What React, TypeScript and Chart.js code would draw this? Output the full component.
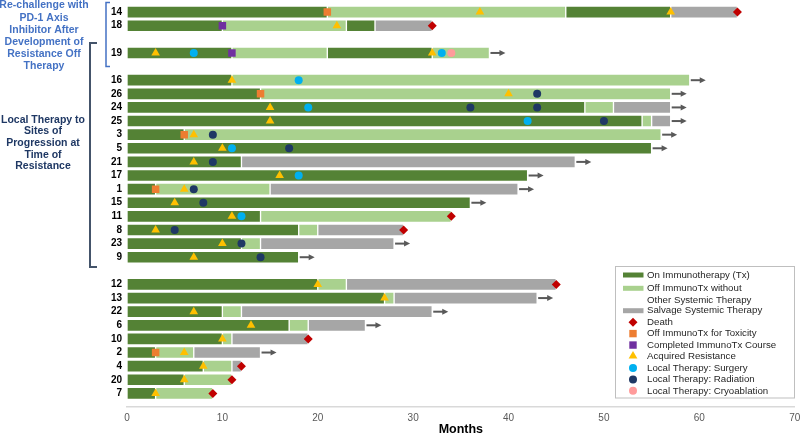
import React, { useEffect, useRef } from 'react';
import { Chart, registerables } from 'chart.js';

Chart.register(...registerables);

const FONT = 'Arial, "Liberation Sans", Helvetica, sans-serif';

// Rows, top to bottom ('' = spacer row)
const patients = ['14', '18', '', '19', '', '16', '26', '24', '25', '3', '5', '21', '17', '1', '15', '11', '8', '23', '9', '', '12', '13', '22', '6', '10', '2', '4', '20', '7'];

// [patient, start month, end month]
const onImmunoTx: [string, number, number][] = [
  ['14', 0, 21], ['14', 46, 57], ['18', 0, 10], ['18', 23, 26], ['19', 0, 11], ['19', 21, 32],
  ['16', 0, 11], ['26', 0, 14], ['24', 0, 48], ['25', 0, 54], ['3', 0, 6], ['5', 0, 55], ['21', 0, 12],
  ['17', 0, 42], ['1', 0, 3], ['15', 0, 36], ['11', 0, 14], ['8', 0, 18], ['23', 0, 12], ['9', 0, 18],
  ['12', 0, 20], ['13', 0, 27], ['22', 0, 10], ['6', 0, 17], ['10', 0, 10], ['2', 0, 3], ['4', 0, 8], ['20', 0, 6], ['7', 0, 3],
];
const offImmunoTx: [string, number, number][] = [
  ['14', 21, 46], ['18', 10, 23], ['19', 11, 21], ['19', 32, 38], ['16', 11, 59], ['26', 14, 57], ['24', 48, 51],
  ['25', 54, 55], ['3', 6, 56], ['1', 3, 15], ['11', 14, 34], ['8', 18, 20], ['23', 12, 14],
  ['12', 20, 23], ['13', 27, 28], ['22', 10, 12], ['6', 17, 19], ['10', 10, 11], ['2', 3, 7], ['4', 8, 11], ['20', 6, 11], ['7', 3, 9],
];
const salvageTx: [string, number, number][] = [
  ['14', 57, 64], ['18', 26, 32], ['24', 51, 57], ['25', 55, 57], ['21', 12, 47], ['1', 15, 41], ['8', 20, 29], ['23', 14, 28],
  ['12', 23, 45], ['13', 28, 43], ['22', 12, 32], ['6', 19, 25], ['10', 11, 19], ['2', 7, 14], ['4', 11, 12],
];

// [patient, month]
const deathEvents: [string, number][] = [['14', 64], ['18', 32], ['11', 34], ['8', 29], ['12', 45], ['10', 19], ['4', 12], ['20', 11], ['7', 9]];
const toxicityEvents: [string, number][] = [['14', 21], ['26', 14], ['3', 6], ['1', 3], ['2', 3]];
const completedEvents: [string, number][] = [['18', 10], ['19', 11]];
const resistanceEvents: [string, number][] = [
  ['14', 37], ['14', 57], ['18', 22], ['19', 3], ['19', 32], ['16', 11], ['26', 40], ['24', 15], ['25', 15], ['3', 7],
  ['5', 10], ['21', 7], ['17', 16], ['1', 6], ['15', 5], ['11', 11], ['8', 3], ['23', 10], ['9', 7],
  ['12', 20], ['13', 27], ['22', 7], ['6', 13], ['10', 10], ['2', 6], ['4', 8], ['20', 6], ['7', 3],
];
const surgeryEvents: [string, number][] = [['19', 7], ['19', 33], ['16', 18], ['24', 19], ['25', 42], ['5', 11], ['17', 18], ['11', 12]];
const radiationEvents: [string, number][] = [
  ['26', 43], ['24', 36], ['24', 43], ['25', 50], ['3', 9], ['5', 17], ['21', 9], ['1', 7], ['15', 8], ['8', 5], ['23', 12], ['9', 14],
];
const cryoEvents: [string, number][] = [['19', 34]];
// ongoing (arrow after bar end)
const ongoing: [string, number][] = [
  ['19', 38], ['16', 59], ['26', 57], ['24', 57], ['25', 57], ['3', 56], ['5', 55], ['21', 47], ['17', 42], ['1', 41],
  ['15', 36], ['23', 28], ['9', 18], ['13', 43], ['22', 32], ['6', 25], ['2', 14],
];

const xTicks = [0, 10, 20, 30, 40, 50, 60, 70];

const groupRechallenge = ['Re-challenge with', 'PD-1 Axis', 'Inhibitor After', 'Development of', 'Resistance Off', 'Therapy'];
const groupLocal = ['Local Therapy to', 'Sites of', 'Progression at', 'Time of', 'Resistance'];

const C = {
  dark: '#548235',
  light: '#A9D18E',
  gray: '#A6A6A6',
  death: '#C00000',
  tox: '#ED7D31',
  completed: '#7030A0',
  resist: '#FFC000',
  surgery: '#00B0F0',
  radiation: '#1F3864',
  cryo: '#FF9B9B',
};

const legendItems: { label: string[]; kind: string; color: string }[] = [
  { label: ['On Immunotherapy (Tx)'], kind: 'bar', color: C.dark },
  { label: ['Off ImmunoTx without', 'Other Systemic Therapy'], kind: 'bar', color: C.light },
  { label: ['Salvage Systemic Therapy'], kind: 'bar', color: C.gray },
  { label: ['Death'], kind: 'diamond', color: C.death },
  { label: ['Off ImmunoTx for Toxicity'], kind: 'square', color: C.tox },
  { label: ['Completed ImmunoTx Course'], kind: 'square', color: C.completed },
  { label: ['Acquired Resistance'], kind: 'triangle', color: C.resist },
  { label: ['Local Therapy: Surgery'], kind: 'circle', color: C.surgery },
  { label: ['Local Therapy: Radiation'], kind: 'circle', color: C.radiation },
  { label: ['Local Therapy: Cryoablation'], kind: 'circle', color: C.cryo },
];

const rowOf = (p: string) => patients.indexOf(p);
const segData = (arr: [string, number, number][]) => arr.map(([p, s, e]) => ({ x: [s, e], y: rowOf(p) }));
const ptData = (arr: [string, number][]) => arr.map(([p, m]) => ({ x: m, y: rowOf(p) }));

function drawSymbol(ctx: CanvasRenderingContext2D, kind: string, color: string, x: number, y: number) {
  ctx.save();
  ctx.fillStyle = color;
  ctx.beginPath();
  if (kind === 'bar') {
    ctx.rect(x - 10, y - 2.5, 20.5, 5);
  } else if (kind === 'diamond') {
    ctx.moveTo(x, y - 4.5); ctx.lineTo(x + 4.5, y); ctx.lineTo(x, y + 4.5); ctx.lineTo(x - 4.5, y); ctx.closePath();
  } else if (kind === 'square') {
    ctx.rect(x - 3.7, y - 3.7, 7.4, 7.4);
  } else if (kind === 'triangle') {
    ctx.moveTo(x, y - 5); ctx.lineTo(x + 4.4, y + 2.6); ctx.lineTo(x - 4.4, y + 2.6); ctx.closePath();
  } else {
    ctx.arc(x, y, 4, 0, Math.PI * 2);
  }
  ctx.fill();
  ctx.restore();
}

const overlayPlugin = {
  id: 'overlay',
  afterDatasetsDraw(chart: any) {
    const ctx: CanvasRenderingContext2D = chart.ctx;
    const xs = chart.scales.x;
    const ys = chart.scales.y;
    // arrows for ongoing
    ctx.save();
    ctx.strokeStyle = '#595959';
    ctx.fillStyle = '#595959';
    ctx.lineWidth = 2;
    ongoing.forEach(([p, m]) => {
      const x0 = xs.getPixelForValue(m) + 1;
      const y = ys.getPixelForValue(rowOf(p));
      const tip = x0 + 15;
      ctx.beginPath();
      ctx.moveTo(x0, y);
      ctx.lineTo(tip - 5, y);
      ctx.stroke();
      ctx.beginPath();
      ctx.moveTo(tip, y);
      ctx.lineTo(tip - 6, y - 3);
      ctx.lineTo(tip - 6, y + 3);
      ctx.closePath();
      ctx.fill();
    });
    ctx.restore();
  },
  afterDraw(chart: any) {
    const ctx: CanvasRenderingContext2D = chart.ctx;
    ctx.save();
    // group labels
    ctx.textAlign = 'center';
    ctx.textBaseline = 'middle';
    ctx.font = `bold 10.5px ${FONT}`;
    ctx.fillStyle = '#4472C4';
    groupRechallenge.forEach((t, i) => ctx.fillText(t, 44, 5.5 + i * 12.2));
    ctx.fillStyle = '#1F3864';
    groupLocal.forEach((t, i) => ctx.fillText(t, 43, 120 + i * 11.6));
    // brackets
    ctx.lineWidth = 1.5;
    ctx.strokeStyle = '#4472C4';
    ctx.beginPath();
    ctx.moveTo(110, 2.5); ctx.lineTo(106, 2.5); ctx.lineTo(106, 66.5); ctx.lineTo(110, 66.5);
    ctx.stroke();
    ctx.strokeStyle = '#44546A';
    ctx.lineWidth = 2;
    ctx.beginPath();
    ctx.moveTo(97, 43); ctx.lineTo(90, 43); ctx.lineTo(90, 267); ctx.lineTo(97, 267);
    ctx.stroke();
    // legend box
    ctx.fillStyle = '#FFFFFF';
    ctx.fillRect(615, 266, 180, 132);
    ctx.strokeStyle = '#BFBFBF';
    ctx.lineWidth = 1;
    ctx.strokeRect(615.5, 266.5, 179, 131.5);
    ctx.textAlign = 'left';
    ctx.font = `9.7px ${FONT}`;
    let y = 275;
    legendItems.forEach((it, i) => {
      drawSymbol(ctx, it.kind, it.color, 633, it.kind === 'triangle' ? y - 0.5 : y);
      ctx.fillStyle = '#262626';
      it.label.forEach((l, j) => ctx.fillText(l, 647, y + j * 11.6));
      if (i === 0) y += 13.3;
      else if (it.label.length > 1) y += 22.4;
      else y += 11.45;
    });
    ctx.restore();
  },
};

export default function App() {
  const ref = useRef<HTMLCanvasElement>(null);
  useEffect(() => {
    if (!ref.current) return;
    const barBase = { type: 'bar' as const, barThickness: 12, borderWidth: 1, borderColor: 'rgba(255,255,255,0.55)', borderSkipped: false, grouped: false, order: 5 };
    const pt = (label: string, data: any, style: string, color: string, r: number, order: number) => ({
      type: 'scatter' as const, label, data, pointStyle: style, backgroundColor: color, borderColor: color,
      borderWidth: 0, pointRadius: r, pointHoverRadius: r, order,
    });
    const chart = new Chart(ref.current, {
      type: 'bar',
      data: {
        datasets: [
          { ...barBase, label: 'On Immunotherapy (Tx)', data: segData(onImmunoTx) as any, backgroundColor: C.dark },
          { ...barBase, label: 'Off ImmunoTx without Other Systemic Therapy', data: segData(offImmunoTx) as any, backgroundColor: C.light },
          { ...barBase, label: 'Salvage Systemic Therapy', data: segData(salvageTx) as any, backgroundColor: C.gray },
          pt('Death', ptData(deathEvents), 'rectRot', C.death, 4.5, 1),
          pt('Off ImmunoTx for Toxicity', ptData(toxicityEvents), 'rect', C.tox, 5.3, 1),
          pt('Completed ImmunoTx Course', ptData(completedEvents), 'rect', C.completed, 5.3, 1),
          pt('Acquired Resistance', ptData(resistanceEvents), 'triangle', C.resist, 5, 1),
          pt('Local Therapy: Surgery', ptData(surgeryEvents), 'circle', C.surgery, 4, 1),
          pt('Local Therapy: Radiation', ptData(radiationEvents), 'circle', C.radiation, 4, 1),
          pt('Local Therapy: Cryoablation', ptData(cryoEvents), 'circle', C.cryo, 4, 1),
        ] as any,
      },
      options: {
        indexAxis: 'y',
        animation: false,
        responsive: false,
        events: [],
        layout: { padding: { left: 0, right: 5, top: 5, bottom: 0 } },
        plugins: { legend: { display: false }, tooltip: { enabled: false } },
        scales: {
          x: {
            type: 'linear',
            min: 0,
            max: 70,
            offset: false,
            afterBuildTicks: (s: any) => { s.ticks = xTicks.map((v) => ({ value: v })); },
            afterFit: (s: any) => { s.height = 28; s.paddingLeft = 0; s.paddingRight = 0; },
            grid: { display: false, drawTicks: false },
            border: { display: true, color: '#D9D9D9', width: 1.5 },
            ticks: { color: '#595959', font: { family: FONT, size: 10 }, padding: 5, maxRotation: 0 },
            title: { display: true, text: 'Months', color: '#000', font: { family: FONT, size: 12.5, weight: 'bold' }, padding: { top: 0, bottom: -2 } },
          },
          y: {
            type: 'linear',
            reverse: true,
            offset: false,
            min: -0.5,
            max: 29,
            afterBuildTicks: (s: any) => { s.ticks = patients.map((_, i) => ({ value: i })); },
            afterFit: (s: any) => { s.width = 127; s.paddingTop = 0; s.paddingBottom = 0; },
            grid: { display: false, drawTicks: false, offset: false },
            border: { display: false },
            ticks: {
              autoSkip: false,
              padding: 5,
              color: '#000',
              font: { family: FONT, size: 10, weight: 'bold' },
              callback: (v: any) => patients[v as number] ?? '',
            },
          },
        },
      } as any,
      plugins: [overlayPlugin],
    });
    return () => chart.destroy();
  }, []);
  return (
    <div style={{ position: 'fixed', left: 0, top: 0, width: 800, height: 435, background: '#fff' }}>
      <canvas ref={ref} width={800} height={435} />
    </div>
  );
}
